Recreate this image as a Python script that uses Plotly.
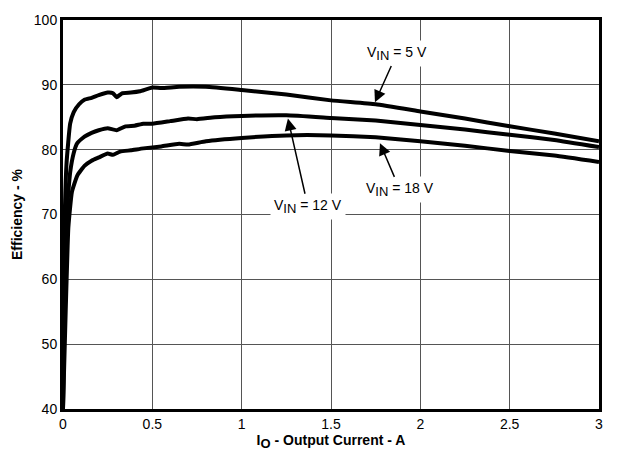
import plotly.graph_objects as go

# Efficiency vs. output current for three input voltages
x_5v = [0, 0.01, 0.02, 0.04, 0.06, 0.09, 0.12, 0.16, 0.2, 0.25, 0.28, 0.3, 0.33, 0.38, 0.43,
        0.5, 0.55, 0.65, 0.8, 1.0, 1.25, 1.5, 1.75, 2.0, 2.25, 2.5, 2.75, 3.0]
eff_5v = [40, 70, 78, 84, 85.8, 87.0, 87.7, 88.0, 88.4, 88.8, 88.7, 88.1, 88.7, 88.8, 89.0,
          89.6, 89.5, 89.7, 89.7, 89.2, 88.5, 87.6, 87.0, 85.9, 84.8, 83.6, 82.5, 81.3]

x_12v = [0, 0.01, 0.02, 0.04, 0.06, 0.08, 0.12, 0.16, 0.2, 0.25, 0.3, 0.35, 0.4, 0.45, 0.5,
         0.6, 0.7, 0.75, 0.85, 1.0, 1.25, 1.5, 1.75, 2.0, 2.25, 2.5, 2.75, 3.0]
eff_12v = [40, 60, 70, 76.5, 79.5, 81.0, 82.0, 82.6, 83.0, 83.3, 83.0, 83.6, 83.7, 84.0, 84.0,
           84.4, 84.8, 84.7, 85.0, 85.2, 85.3, 84.9, 84.5, 83.8, 83.1, 82.3, 81.5, 80.4]

x_18v = [0, 0.015, 0.03, 0.05, 0.08, 0.12, 0.16, 0.2, 0.25, 0.28, 0.32, 0.38, 0.45, 0.55,
         0.65, 0.7, 0.8, 1.0, 1.25, 1.5, 1.75, 2.0, 2.25, 2.5, 2.75, 3.0]
eff_18v = [40, 55, 68, 73.5, 76.0, 77.5, 78.3, 78.8, 79.4, 79.2, 79.7, 79.9, 80.2, 80.5,
           80.9, 80.8, 81.3, 81.8, 82.2, 82.2, 81.9, 81.3, 80.6, 79.8, 79.1, 78.1]

x_ticks = [0, 0.5, 1, 1.5, 2, 2.5, 3]
x_tick_text = ["0", "0.5", "1", "1.5", "2", "2.5", "3"]
y_ticks = [40, 50, 60, 70, 80, 90, 100]

SUB = '<sub><span style="font-size:13px">{}</span></sub>'

# Curve labels: text, label position, arrow tip
labels = ["V" + SUB.format("IN") + " = 5 V",
          "V" + SUB.format("IN") + " = 12 V",
          "V" + SUB.format("IN") + " = 18 V"]
label_pos = [(1.87, 94.9), (1.371, 71.2), (1.886, 73.8)]
arrow_tip = [(1.746, 87.3), (1.259, 84.8), (1.774, 81.0)]

FONT = "Liberation Sans, Arial, sans-serif"

fig = go.Figure()
for xs, ys in [(x_5v, eff_5v), (x_12v, eff_12v), (x_18v, eff_18v)]:
    fig.add_trace(go.Scatter(x=xs, y=ys, mode="lines",
                             line=dict(color="black", width=4, shape="spline", smoothing=0.4),
                             showlegend=False, hoverinfo="skip"))

for text, (lx, ly), (tx, ty) in zip(labels, label_pos, arrow_tip):
    fig.add_annotation(x=tx, y=ty, ax=lx, ay=ly, xref="x", yref="y", axref="x", ayref="y",
                       text=text, showarrow=True, arrowhead=2, arrowsize=1.6, arrowwidth=1.5,
                       arrowcolor="black", bgcolor="white", borderpad=3,
                       font=dict(family=FONT, size=14, color="black"))

axis_common = dict(showline=True, linecolor="black", linewidth=3, mirror=True,
                   showgrid=True, gridcolor="#555555", gridwidth=1, zeroline=False,
                   ticks="", tickfont=dict(family=FONT, size=14, color="black"))

fig.update_xaxes(range=[0, 3], tickvals=x_ticks, ticktext=x_tick_text,
                 title=dict(text="I" + SUB.format("O") + " - Output Current - A", standoff=4,
                            font=dict(family=FONT, size=14, color="black", weight="bold")),
                 **axis_common)
fig.update_yaxes(range=[40, 100], tickvals=y_ticks,
                 title=dict(text="Efficiency - %", standoff=8,
                            font=dict(family=FONT, size=14, color="black", weight="bold")),
                 **axis_common)

fig.update_layout(width=623, height=461, margin=dict(l=63, r=24, t=14, b=52),
                  paper_bgcolor="white", plot_bgcolor="white")

fig.write_html("out.html")
